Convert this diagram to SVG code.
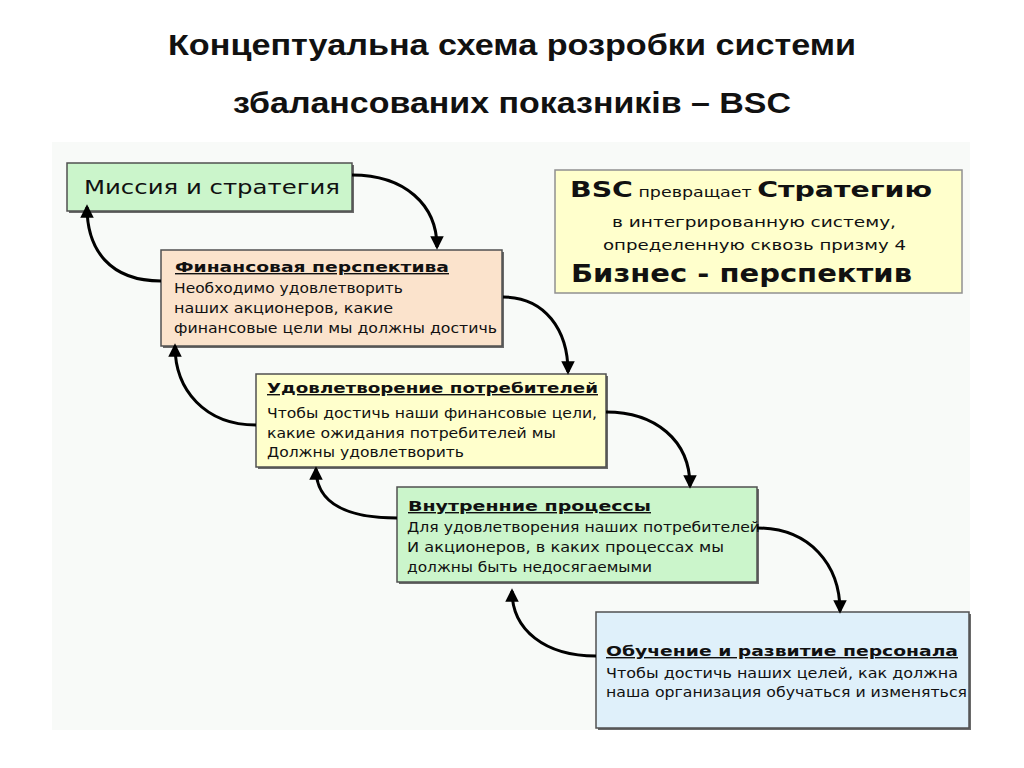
<svg xmlns="http://www.w3.org/2000/svg" width="1024" height="768" viewBox="0 0 1024 768">
<defs>
<style>
.title{font-family:"Liberation Sans",Arial,sans-serif;font-weight:bold;font-size:29px;fill:#111;}
.box{stroke:#505050;stroke-width:1.5;}
.shadow{fill:#6a6a6a;}
.hd{font-family:"DejaVu Sans",Verdana,sans-serif;font-weight:bold;font-size:14px;fill:#111;text-decoration:underline;}
.tx{font-family:"DejaVu Sans",Verdana,sans-serif;font-size:13.5px;fill:#111;}
.conn{fill:none;stroke:#000;stroke-width:3;marker-end:url(#ah);}
</style>
<marker id="ah" viewBox="0 0 10 10" refX="8" refY="5" markerWidth="4.5" markerHeight="4.5" orient="auto" markerUnits="strokeWidth">
<path d="M0,0 L10,5 L0,10 z" fill="#000"/>
</marker>
</defs>
<rect width="1024" height="768" fill="#fff"/>
<rect x="52" y="142" width="918" height="588" fill="#f8faf8"/>

<text class="title" x="512" y="55" text-anchor="middle" textLength="688" lengthAdjust="spacingAndGlyphs">Концептуальна схема розробки системи</text>
<text class="title" x="512" y="113" text-anchor="middle" textLength="558" lengthAdjust="spacingAndGlyphs">збалансованих показників – BSC</text>

<g id="mission">
<rect class="shadow" x="69" y="165" width="285" height="48"/>
<rect class="box" x="67" y="163" width="285" height="48" fill="#cbf5cb"/>
<text x="84" y="194" font-family="DejaVu Sans, Verdana, sans-serif" font-size="20" fill="#111" textLength="256" lengthAdjust="spacingAndGlyphs">Миссия и стратегия</text>
</g>

<g id="bsc">
<rect x="555" y="170" width="407" height="123" fill="#ffffcc" stroke="#909090" stroke-width="1.5"/>
<text x="570" y="197" font-family="DejaVu Sans, Verdana, sans-serif" fill="#111" textLength="362" lengthAdjust="spacingAndGlyphs"><tspan font-weight="bold" font-size="22">BSC</tspan><tspan font-size="13.5"> превращает </tspan><tspan font-weight="bold" font-size="22">Стратегию</tspan></text>
<text class="tx" x="612" y="227" textLength="284" lengthAdjust="spacingAndGlyphs">в интегрированную систему,</text>
<text class="tx" x="603" y="250" textLength="303" lengthAdjust="spacingAndGlyphs">определенную сквозь призму 4</text>
<text x="571" y="282" font-family="DejaVu Sans, Verdana, sans-serif" font-weight="bold" font-size="25" fill="#111" textLength="341" lengthAdjust="spacingAndGlyphs">Бизнес - перспектив</text>
</g>

<g id="finance">
<rect class="shadow" x="163" y="252" width="341" height="96"/>
<rect class="box" x="161" y="250" width="341" height="96" fill="#fbe3cc"/>
<text class="hd" x="175" y="272" textLength="274" lengthAdjust="spacingAndGlyphs">Финансовая перспектива</text>
<text class="tx" x="174" y="293" textLength="229" lengthAdjust="spacingAndGlyphs">Необходимо удовлетворить</text>
<text class="tx" x="174" y="313" textLength="219" lengthAdjust="spacingAndGlyphs">наших акционеров, какие</text>
<text class="tx" x="174" y="333" textLength="323" lengthAdjust="spacingAndGlyphs">финансовые цели мы должны достичь</text>
</g>

<g id="customer">
<rect class="shadow" x="258" y="376" width="350" height="93"/>
<rect class="box" x="256" y="374" width="350" height="93" fill="#ffffcc"/>
<text class="hd" x="267" y="393" textLength="331" lengthAdjust="spacingAndGlyphs">Удовлетворение потребителей</text>
<text class="tx" x="267" y="418" textLength="330" lengthAdjust="spacingAndGlyphs">Чтобы достичь наши финансовые цели,</text>
<text class="tx" x="267" y="438" textLength="289" lengthAdjust="spacingAndGlyphs">какие ожидания потребителей мы</text>
<text class="tx" x="267" y="457" textLength="197" lengthAdjust="spacingAndGlyphs">Должны удовлетворить</text>
</g>

<g id="internal">
<rect class="shadow" x="399" y="489" width="360" height="95"/>
<rect class="box" x="397" y="487" width="360" height="95" fill="#cbf5cb"/>
<text class="hd" x="408" y="511" textLength="243" lengthAdjust="spacingAndGlyphs">Внутренние процессы</text>
<text class="tx" x="407" y="532" textLength="353" lengthAdjust="spacingAndGlyphs">Для удовлетворения наших потребителей</text>
<text class="tx" x="407" y="552" textLength="317" lengthAdjust="spacingAndGlyphs">И акционеров, в каких процессах мы</text>
<text class="tx" x="407" y="572" textLength="245" lengthAdjust="spacingAndGlyphs">должны быть недосягаемыми</text>
</g>

<g id="learning">
<rect class="shadow" x="598" y="614" width="373" height="116"/>
<rect class="box" x="596" y="612" width="373" height="116" fill="#dff0fa"/>
<text class="hd" x="606" y="656" textLength="352" lengthAdjust="spacingAndGlyphs">Обучение и развитие персонала</text>
<text class="tx" x="606" y="678" textLength="352" lengthAdjust="spacingAndGlyphs">Чтобы достичь наших целей,  как должна</text>
<text class="tx" x="606" y="697" textLength="361" lengthAdjust="spacingAndGlyphs">наша организация обучаться и изменяться</text>
</g>

<g id="connectors">
<path class="conn" d="M352,175 C405,175 437,205 437,247"/>
<path class="conn" d="M161,281 C110,281 87,250 87,207"/>
<path class="conn" d="M503,297 C545,297 568,330 568,372"/>
<path class="conn" d="M256,425 C205,425 175,390 175,346"/>
<path class="conn" d="M606,412 C655,412 690,440 690,486"/>
<path class="conn" d="M397,518 C350,518 316,505 316,469"/>
<path class="conn" d="M757,528 C810,528 840,565 840,611"/>
<path class="conn" d="M596,656 C545,656 512,630 512,591"/>
</g>
</svg>
